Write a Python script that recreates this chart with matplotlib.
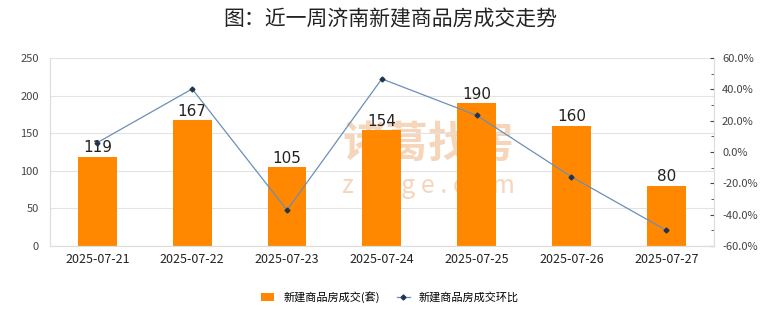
import matplotlib
matplotlib.use("Agg")
import matplotlib.pyplot as plt
from matplotlib.ticker import MultipleLocator, FuncFormatter

plt.rcParams['font.family'] = ['Noto Sans CJK SC', 'DejaVu Sans']

dates = ["2025-07-21", "2025-07-22", "2025-07-23", "2025-07-24",
         "2025-07-25", "2025-07-26", "2025-07-27"]
deals = [119, 167, 105, 154, 190, 160, 80]
mom_pct = [6.0, 40.3, -37.1, 46.7, 23.4, -15.8, -50.0]

fig = plt.figure(figsize=(7.8, 3.28), dpi=100)
ax = fig.add_axes([0.064, 0.25, 0.851, 0.573])
ax2 = ax.twinx()
ax.set_zorder(1)
ax.patch.set_visible(False)
ax2.set_zorder(2)

x = list(range(len(dates)))

# watermark, drawn behind the bars
ax.text(0.57, 0.54, "诸葛找房", transform=ax.transAxes, fontsize=31,
        color="#f6d6bb", ha="center", va="center", fontweight="bold",
        zorder=0.5)
ax.text(0.57, 0.32, "z h u g e . c o m", transform=ax.transAxes,
        fontsize=18, color="#f6d6bb", ha="center", va="center", zorder=0.5)

bars = ax.bar(x, deals, width=0.41, color="#FF8800", zorder=2,
              label="新建商品房成交(套)")
for xi, v in zip(x, deals):
    ax.text(xi, v + 2, str(v), ha="center", va="bottom", fontsize=11,
            color="#222222", family="DejaVu Sans", zorder=4)

ax.set_xlim(-0.5, len(dates) - 0.5)
ax.set_ylim(0, 250)
ax.yaxis.set_major_locator(MultipleLocator(50))
ax.set_xticks(x)
ax.set_xticklabels(dates)
ax.grid(axis="y", color="#e3e3e3", linewidth=0.8, zorder=0)
ax.set_axisbelow(True)
ax.tick_params(axis="y", length=0, labelsize=8, colors="#444444", pad=8)
ax.tick_params(axis="x", length=0, labelsize=9, colors="#222222", pad=5)

line, = ax2.plot(x, mom_pct, color="#6b8fb8", linewidth=0.9,
                 marker="D", markersize=2.5, markerfacecolor="#1f3550",
                 markeredgecolor="#1f3550", zorder=3, label="新建商品房成交环比")
ax2.set_ylim(-60, 60)
ax2.yaxis.set_major_locator(MultipleLocator(20))
ax2.yaxis.set_minor_locator(MultipleLocator(10))
ax2.yaxis.set_major_formatter(FuncFormatter(lambda v, p: f"{v:.1f}%"))
ax2.tick_params(axis="y", which="major", length=3, direction="in",
                labelsize=8, colors="#444444", pad=6)
ax2.tick_params(axis="y", which="minor", length=2, direction="in",
                colors="#444444")

for a in (ax, ax2):
    for s in a.spines.values():
        s.set_color("#dddddd")
        s.set_linewidth(0.8)
    a.spines["top"].set_visible(False)

fig.suptitle("图：近一周济南新建商品房成交走势", x=0.5, y=0.975,
             fontsize=15, color="#222222")

fig.legend(handles=[bars, line], loc="lower center",
           bbox_to_anchor=(0.5, 0.045), ncol=2, frameon=False,
           fontsize=8, handlelength=1.2, columnspacing=1.5)

fig.savefig("out.png", dpi=100)
